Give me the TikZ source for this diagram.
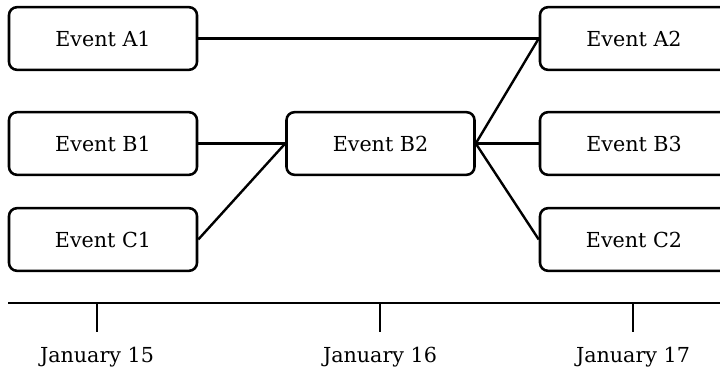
\documentclass[tikz,border=0pt]{standalone}
\usepackage{fontspec}
\setmainfont{DejaVu Serif}
\begin{document}
\begin{tikzpicture}[x=0.75pt,y=0.75pt,
  evbox/.style={draw, line width=1.9pt, rounded corners=6pt, minimum width=141pt, minimum height=47pt, font=\fontsize{15.5}{18}\selectfont, fill=white},
  conn/.style={line width=1.8pt},
  datelbl/.style={font=\fontsize{15.5}{18}\selectfont}]
\useasboundingbox (0,0) rectangle (720,372);
\node[evbox] (A1) at (103,333.5) {Event A1};
\node[evbox] (B1) at (103,228.5) {Event B1};
\node[evbox] (C1) at (103,132.5) {Event C1};
\node[evbox] (B2) at (380.5,228.5) {Event B2};
\node[evbox] (A2) at (634,333.5) {Event A2};
\node[evbox] (B3) at (634,228.5) {Event B3};
\node[evbox] (C2) at (634,132.5) {Event C2};
\draw[conn] (A1.east) -- (A2.west);
\draw[conn] (B1.east) -- (B2.west);
\draw[conn] (C1.east) -- (B2.west);
\draw[conn] (B2.east) -- (A2.west);
\draw[conn] (B2.east) -- (B3.west);
\draw[conn] (B2.east) -- (C2.west);
\coordinate (tl0) at (8,69);
\coordinate (tl1) at (722,69);
\draw[conn] (tl0) -- (tl1);
\coordinate (t1) at (97,69);
\coordinate (t2) at (380,69);
\coordinate (t3) at (633,69);
\coordinate (t1b) at (97,40);
\coordinate (t2b) at (380,40);
\coordinate (t3b) at (633,40);
\draw[conn] (t1) -- (t1b);
\draw[conn] (t2) -- (t2b);
\draw[conn] (t3) -- (t3b);
\node[datelbl] (d1) at (97,15) {January 15};
\node[datelbl] (d2) at (380,15) {January 16};
\node[datelbl] (d3) at (633,15) {January 17};
\end{tikzpicture}
\end{document}
